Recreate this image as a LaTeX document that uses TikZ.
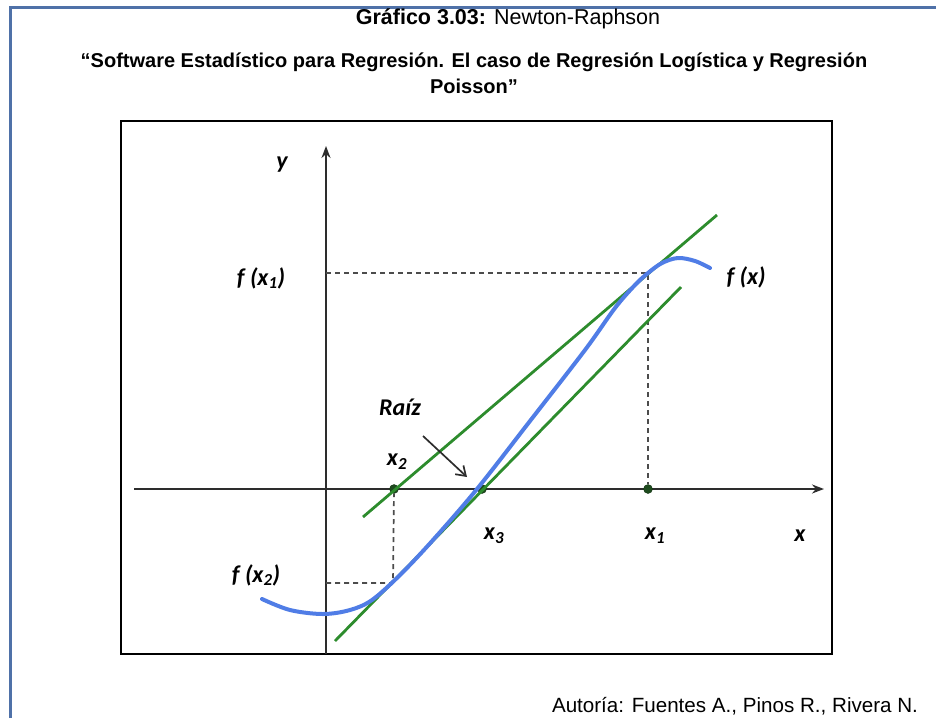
\documentclass[tikz,border=0pt]{standalone}
\usepackage{fontspec}
\setmainfont{Liberation Sans}
\newfontfamily\labfont{Carlito}
\usetikzlibrary{arrows.meta}
\definecolor{framecol}{RGB}{79,113,168}
\definecolor{tangreen}{RGB}{45,140,45}
\definecolor{curveblue}{RGB}{80,125,230}
\definecolor{dotgreen}{RGB}{30,75,30}
\definecolor{axisgray}{RGB}{45,45,45}
\tikzset{
  axisline/.style={draw=axisgray, line width=2.4pt, -{Stealth[length=12pt,width=9pt]}},
  tangent/.style={draw=tangreen, line width=2.8pt},
  guide/.style={draw=axisgray!85, line width=1.7pt, dash pattern=on 5pt off 4pt},
  rootdot/.style={circle, fill=dotgreen, draw=dotgreen!70!black, inner sep=0pt, minimum size=9pt},
  lab/.style={font=\labfont\bfseries\itshape\fontsize{24}{28}\selectfont, inner sep=0pt},
  ttl/.style={inner sep=0pt, anchor=center}
}
\begin{document}
\begin{tikzpicture}[x=1pt,y=-1pt]
\useasboundingbox (0,0) rectangle (936,718);
% outer frame
\draw[framecol, line width=3pt] (10,718) -- (10,7) -- (936,7);
% titles
\node[ttl, font=\fontsize{21.5}{25}\selectfont] (t1) at (508,19) {\textbf{Gráfico 3.03:} Newton-Raphson};
\node[ttl, font=\bfseries\fontsize{20}{24}\selectfont] (t2) at (474,62) {“Software Estadístico para Regresión. El caso de Regresión Logística y Regresión};
\node[ttl, font=\bfseries\fontsize{20}{24}\selectfont] (t3) at (474,86) {Poisson”};
% inner box
\draw[black, line width=2.4pt] (121,121) rectangle (832,654);
% axes
\coordinate (xs) at (134,489);
\coordinate (xe) at (824,489);
\coordinate (ys) at (326,654);
\coordinate (ye) at (326,146);
\draw[axisline] (xs) -- (xe);
\draw[axisline] (ys) -- (ye);
% key points
\coordinate (p1) at (648,273);
\coordinate (p2) at (393,583);
\coordinate (fy1) at (326,273);
\coordinate (fy2) at (326,583);
\node[rootdot] (x2d) at (394,489) {};
\node[rootdot] (x3d) at (482,489) {};
\node[rootdot] (x1d) at (648,489) {};
% dashed guides
\draw[guide] (fy1) -- (p1) -- (x1d);
\draw[guide] (fy2) -- (p2) -- (x2d);
% tangents
\coordinate (t1a) at (363,517);
\coordinate (t1b) at (717,215);
\coordinate (t2a) at (335,641);
\coordinate (t2b) at (681,287);
\draw[tangent] (t1a) -- (t1b);
\draw[tangent] (t2a) -- (t2b);
% curve
\draw[curveblue, line width=4pt, line cap=round] plot[smooth, tension=0.55] coordinates {
(262,599) (290,610) (323,614) (350,610) (372,600) (400,575) (433,540) (477,489) (530,421) (585,350) (615,308) (635,285) (648,273) (662,263) (678,258) (695,261) (710,268)};
% labels
\node[lab] (ly) at (282,165) {y};
\node[lab] (lf1) at (261,278) {f (x\textsubscript{1})};
\node[lab] (lfx) at (746,277) {f (x)};
\node[lab] (lraiz) at (400,407) {Raíz};
\node[lab] (lx2) at (397,462) {x\textsubscript{2}};
\node[lab] (lx3) at (494,536) {x\textsubscript{3}};
\node[lab] (lx1) at (655,536) {x\textsubscript{1}};
\node[lab] (lx) at (800,536) {x};
\node[lab] (lf2) at (256,575) {f (x\textsubscript{2})};
% root arrow
\coordinate (ra) at (423,436);
\coordinate (rb) at (467,477);
\draw[axisgray, line width=1.7pt, -{Straight Barb[length=9pt,width=12pt]}] (ra) -- (rb);
% author
\node[ttl, font=\fontsize{20.6}{24}\selectfont] (auth) at (735,706) {Autoría: Fuentes A., Pinos R., Rivera N.};
\end{tikzpicture}
\end{document}
